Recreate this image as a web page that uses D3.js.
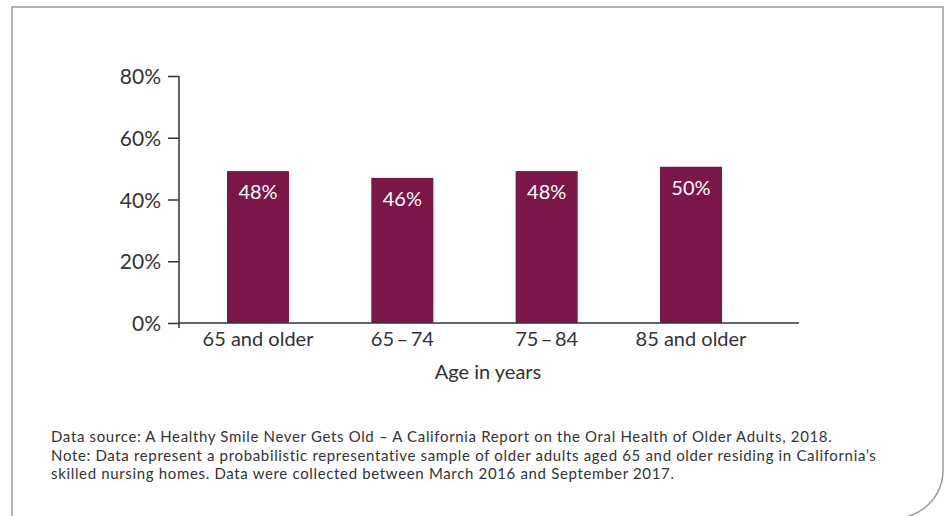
<!DOCTYPE html>
<html lang="en">
  <head>
    <meta charset="utf-8">
    <title>Age in years</title>
    <script src="https://d3js.org/d3.v7.min.js"></script>
    <style>
      body { margin: 0; background: #fff; }
      text { font-family: Lato, "Open Sans", sans-serif; fill: #333; }
    </style>
  </head>
  <body>
    <script>
      // data
      var ages = ["65 and older", "65\u2009\u2013\u200974", "75\u2009\u2013\u200984", "85 and older"]
      var percents = [49.2, 47.0, 49.2, 50.6]
      var barLabels = ["48%", "46%", "48%", "50%"]
      var yTicks = [0, 20, 40, 60, 80]
      var notes = [
        "Data source: A Healthy Smile Never Gets Old \u2013 A California Report on the Oral Health of Older Adults, 2018.",
        "Note: Data represent a probabilistic representative sample of older adults aged 65 and older residing in California\u2019s",
        "skilled nursing homes. Data were collected between March 2016 and September 2017."
      ]

      var width = 947, height = 516

      var svg = d3.select("body")
        .append("svg")
          .attr("width", width)
          .attr("height", height)

      // frame with rounded bottom-right corner, open at the bottom
      svg.append("path")
        .attr("d", "M12,516 L12,7 L943,7 L943,470 A48,48 0 0 1 895,518")
        .attr("fill", "none")
        .attr("stroke", "#9a9a9a")
        .attr("stroke-width", 1.5)

      var x = d3.scaleBand()
        .domain(ages)
        .range([179, 799])
        .paddingInner(0.57)
        .paddingOuter(0.433)
        .align(0.384)

      var y = d3.scaleLinear()
        .domain([0, 80])
        .range([323, 76])

      // bars
      svg.selectAll("rect.bar")
        .data(percents)
        .enter()
        .append("rect")
          .attr("class", "bar")
          .attr("x", function(d, i) { return x(ages[i]) })
          .attr("y", function(d) { return y(d) })
          .attr("width", x.bandwidth())
          .attr("height", function(d) { return y(0) - y(d) })
          .attr("fill", "#7a1648")

      svg.selectAll("text.val")
        .data(percents)
        .enter()
        .append("text")
          .attr("class", "val")
          .attr("x", function(d, i) { return x(ages[i]) + x.bandwidth() / 2 })
          .attr("y", function(d) { return y(d) + 28 })
          .attr("text-anchor", "middle")
          .style("font-size", "20px")
          .style("fill", "#fff")
          .text(function(d, i) { return barLabels[i] })

      // y axis
      var yAxis = svg.append("g")
        .attr("transform", "translate(179,0)")
        .call(d3.axisLeft(y).tickValues(yTicks).tickSize(11).tickPadding(7)
          .tickFormat(function(d) { return d + "%" }))
      yAxis.select(".domain").attr("d", "M0,76 V328").attr("stroke", "#333").attr("stroke-width", 1.5)
      yAxis.selectAll(".tick line").attr("stroke", "#333").attr("stroke-width", 1.5)
      yAxis.selectAll("text")
        .attr("fill", "#333")
        .style("font-size", "21px")
        .style("font-family", "Lato, sans-serif")
        .attr("dy", "0.36em")

      // x axis
      var xAxis = svg.append("g")
        .attr("transform", "translate(0,323)")
        .call(d3.axisBottom(x).tickSize(0).tickPadding(9))
      xAxis.select(".domain").attr("d", "M179,0 H799").attr("stroke", "#333").attr("stroke-width", 1.5)
      xAxis.selectAll("text")
        .attr("fill", "#333")
        .style("font-size", "20px")
        .style("font-family", "Lato, sans-serif")

      svg.append("text")
        .attr("x", 488)
        .attr("y", 379)
        .attr("text-anchor", "middle")
        .style("font-size", "20px")
        .text("Age in years")

      svg.selectAll("text.note")
        .data(notes)
        .enter()
        .append("text")
          .attr("class", "note")
          .attr("x", 51)
          .attr("y", function(d, i) { return 442 + i * 18.5 })
          .style("font-size", "15px")
          .style("letter-spacing", "0.66px")
          .text(function(d) { return d })
    </script>
  </body>
</html>
